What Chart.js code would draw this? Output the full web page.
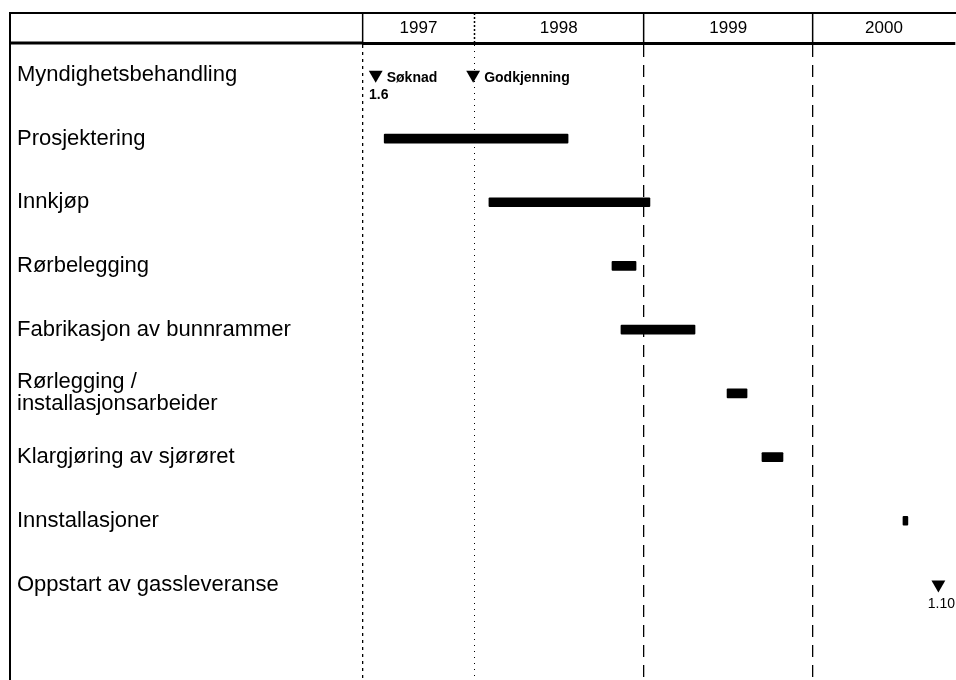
<!DOCTYPE html>
<html lang="no">
<head>
<meta charset="utf-8">
<title>Framdriftsplan</title>
<script src="https://cdn.jsdelivr.net/npm/chart.js@4/dist/chart.umd.min.js"></script>
<style>
  html, body { margin: 0; padding: 0; background: #fff; }
  #wrap { width: 956px; height: 680px; }
</style>
</head>
<body>
<div id="wrap"><canvas id="plan" width="956" height="680"></canvas></div>
<script>
// aktiviteter (rader), siste rad tom
const aktiviteter = [
    'Myndighetsbehandling',
    'Prosjektering',
    'Innkjøp',
    'Rørbelegging',
    'Fabrikasjon av bunnrammer',
    ['Rørlegging /', 'installasjonsarbeider'],
    'Klargjøring av sjørøret',
    'Innstallasjoner',
    'Oppstart av gassleveranse',
    ''
];
// start og slutt i desimalår
const startTid = [null, 1997.47, 1998.088, 1998.814, 1998.867, 1999.493, 1999.699, 2000.531, null, null];
const sluttTid = [null, 1998.555, 1999.038, 1998.956, 1999.304, 1999.611, 1999.823, 2000.56, null, null];

// milepæler
const milepaelTid = [1997.42, 1997.995, 2000.74];
const milepaelRad = [0, 0, 8];
const milepaelNavn = ['Søknad', 'Godkjenning', ''];
const milepaelDato = ['1.6', '', '1.10'];

// tidsakse
const tidFra = 1997.345;
const tidTil = 2000.838;
const aarGrenser = [1998, 1999, 2000];
const aarEtiketter = ['1997', '1998', '1999', '2000'];

function lagTicks(scale) {
    const kanter = [tidFra, ...aarGrenser, tidTil];
    const ticks = [];
    for (let i = 0; i < kanter.length - 1; i++) {
        ticks.push({ value: kanter[i], type: 'grense' });
        ticks.push({ value: (kanter[i] + kanter[i + 1]) / 2, type: 'etikett', tekst: aarEtiketter[i] });
    }
    scale.ticks = ticks;
}

function erGrense(ctx) { return ctx.tick && ctx.tick.type === 'grense'; }

const rammePlugin = {
    id: 'ramme',
    afterDraw(chart) {
        const c = chart.ctx;
        const a = chart.chartArea;
        c.save();
        c.strokeStyle = '#000';
        c.lineWidth = 2;
        c.beginPath();
        c.moveTo(10, 13); c.lineTo(chart.width, 13);
        c.moveTo(10, 12); c.lineTo(10, chart.height);
        c.stroke();
        c.lineWidth = 3;
        c.beginPath();
        c.moveTo(10, a.top); c.lineTo(a.left, a.top);
        c.stroke();
        c.restore();
    }
};

const milepaelTekst = {
    id: 'milepaelTekst',
    afterDatasetsDraw(chart) {
        const meta = chart.getDatasetMeta(1);
        const c = chart.ctx;
        c.save();
        c.fillStyle = '#000';
        c.textBaseline = 'middle';
        meta.data.forEach((p, i) => {
            if (milepaelNavn[i]) {
                c.font = 'bold 14px "Liberation Sans", Arial, sans-serif';
                c.textAlign = 'left';
                c.fillText(milepaelNavn[i], p.x + 11, p.y + 3);
            }
            if (milepaelDato[i]) {
                c.font = (i === 0 ? 'bold ' : '') + '14px "Liberation Sans", Arial, sans-serif';
                c.textAlign = 'center';
                c.fillText(milepaelDato[i], p.x + 3, p.y + 20);
            }
        });
        c.restore();
    }
};

new Chart(document.getElementById('plan'), {
    type: 'bar',
    data: {
        labels: aktiviteter,
        datasets: [
            {
                label: 'Aktivitet',
                data: startTid.map((s, i) => s === null ? null : [s, sluttTid[i]]),
                backgroundColor: '#000',
                borderWidth: 0,
                barThickness: 9,
                borderSkipped: false,
                borderRadius: 1
            },
            {
                type: 'scatter',
                label: 'Milepæl',
                data: milepaelTid.map((t, i) => ({ x: t, y: aktiviteter[milepaelRad[i]] })),
                pointStyle: 'triangle',
                rotation: 180,
                pointRadius: 8,
                pointHoverRadius: 8,
                backgroundColor: '#000',
                borderColor: '#000',
                borderWidth: 0
            }
        ]
    },
    options: {
        indexAxis: 'y',
        responsive: false,
        animation: false,
        layout: { autoPadding: false, padding: { left: 17, top: 0, right: 1, bottom: -8 } },
        plugins: { legend: { display: false }, tooltip: { enabled: false } },
        scales: {
            x: {
                type: 'linear',
                position: 'top',
                min: tidFra,
                max: tidTil,
                afterBuildTicks: lagTicks,
                afterFit: s => { s.height = 43; s.paddingLeft = 0; s.paddingRight = 0; },
                ticks: {
                    autoSkip: false,
                    maxRotation: 0,
                    padding: -26,
                    color: '#000',
                    font: { family: '"Liberation Sans", Arial, sans-serif', size: 17 },
                    callback: (v, i, ticks) => ticks[i].tekst || ''
                },
                grid: {
                    drawTicks: true,
                    tickLength: 30,
                    color: ctx => erGrense(ctx) ? '#000' : 'rgba(0,0,0,0)',
                    lineWidth: ctx => erGrense(ctx) ? (ctx.tick.value === 1998 ? 1 : 1.3) : 0,
                    tickWidth: ctx => erGrense(ctx) ? 1.5 : 0,
                    tickBorderDash: ctx => (ctx.tick && ctx.tick.value === 1998) ? [2, 2] : []
                },
                border: {
                    display: true,
                    color: '#000',
                    width: 3,
                    dash: ctx => {
                        if (!ctx.tick) return [];
                        if (ctx.tick.value === 1998) return [1, 5];
                        if (ctx.tick.value === tidFra) return [3, 4];
                        return [12, 8];
                    }
                }
            },
            y: {
                type: 'category',
                offset: true,
                afterFit: s => { s.width = 346; s.paddingTop = 0; s.paddingBottom = 0; },
                grid: { display: false },
                border: { display: false },
                ticks: {
                    crossAlign: 'far',
                    color: '#000',
                    autoSkip: false,
                    font: { family: '"Liberation Sans", Arial, sans-serif', size: 22, lineHeight: 1.0 }
                }
            }
        }
    },
    plugins: [rammePlugin, milepaelTekst]
});
</script>
</body>
</html>
